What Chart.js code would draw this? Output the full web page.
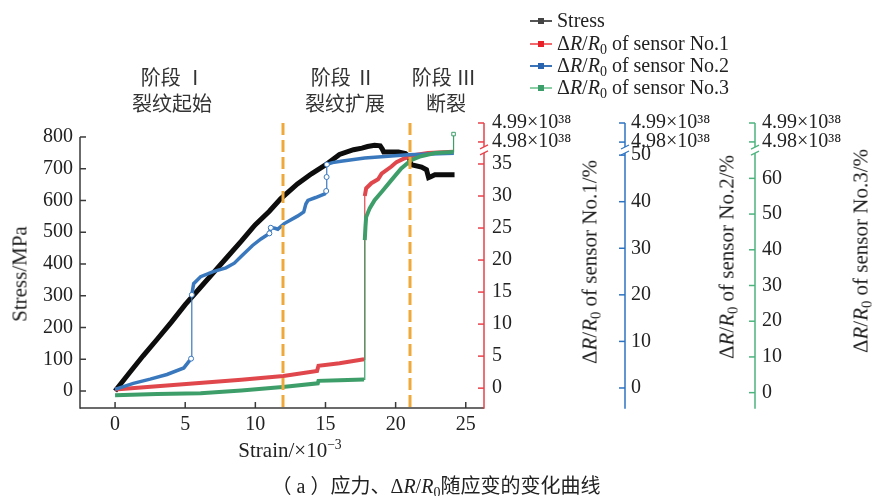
<!DOCTYPE html>
<html><head><meta charset="utf-8">
<script src="https://cdn.jsdelivr.net/npm/chart.js@4.4.1/dist/chart.umd.min.js"></script>
<style>
html,body{margin:0;padding:0;background:#fff;}
#wrap{position:relative;width:872px;height:496px;overflow:hidden;font-family:"Liberation Serif","Noto Sans CJK SC",serif;color:#222;}
#c{position:absolute;left:0;top:0;}
.t{position:absolute;white-space:nowrap;line-height:1;}
.rot{transform:translate(-50%,-50%) rotate(-90deg);}
.ctr{transform:translate(-50%,-50%);}
sub{font-size:0.7em;vertical-align:-0.3em;line-height:0;}
sup{font-size:0.65em;vertical-align:0.55em;line-height:0;}
.cjk{font-family:"Noto Sans CJK SC",sans-serif;}
.stg{color:#333;}
.leg{position:absolute;left:530px;transform:translateY(-50%);white-space:nowrap;line-height:1;font-size:20px;}
.ln{position:relative;display:inline-block;width:22px;height:2px;margin-right:5px;vertical-align:middle;top:-1px;}
.ln b{position:absolute;left:8px;top:-2px;width:6px;height:6px;}
</style></head>
<body>
<div id="wrap">
<canvas id="c" width="872" height="496"></canvas>

<div class="leg" style="top:20px"><span class="ln" style="background:#555"><b style="background:#444"></b></span><span>Stress</span></div>
<div class="leg" style="top:43px"><span class="ln" style="background:#F26A6E"><b style="background:#E8202A"></b></span><span>Δ<i>R</i>/<i>R</i><sub>0</sub> of sensor No.1</span></div>
<div class="leg" style="top:65px"><span class="ln" style="background:#3B74B8"><b style="background:#2A64AE"></b></span><span>Δ<i>R</i>/<i>R</i><sub>0</sub> of sensor No.2</span></div>
<div class="leg" style="top:87px"><span class="ln" style="background:#8BCFA6"><b style="background:#3C9F6B"></b></span><span>Δ<i>R</i>/<i>R</i><sub>0</sub> of sensor No.3</span></div>

<div class="t ctr cjk stg" style="left:173px;top:77px;font-size:20px;">阶段 Ⅰ</div>
<div class="t ctr cjk stg" style="left:172px;top:103px;font-size:20px;">裂纹起始</div>
<div class="t ctr cjk stg" style="left:343px;top:77px;font-size:20px;">阶段 Ⅱ</div>
<div class="t ctr cjk stg" style="left:345px;top:103px;font-size:20px;">裂纹扩展</div>
<div class="t ctr cjk stg" style="left:444px;top:77px;font-size:20px;">阶段 Ⅲ</div>
<div class="t ctr cjk stg" style="left:446px;top:103px;font-size:20px;">断裂</div>

<div class="t rot" style="left:20px;top:274px;font-size:21px;">Stress/MPa</div>
<div class="t ctr" style="left:290px;top:450px;font-size:21px;">Strain/×10<sup>−3</sup></div>
<div class="t rot" style="left:590px;top:262px;font-size:21px;">Δ<i>R</i>/<i>R</i><sub>0</sub> of sensor No.1/%</div>
<div class="t rot" style="left:727px;top:257px;font-size:21px;">Δ<i>R</i>/<i>R</i><sub>0</sub> of sensor No.2/%</div>
<div class="t rot" style="left:861px;top:251px;font-size:21px;">Δ<i>R</i>/<i>R</i><sub>0</sub> of sensor No.3/%</div>

<div class="t ctr" style="left:436px;top:485px;font-size:20px;"><span class="cjk">（</span> a <span class="cjk">）应力、</span>Δ<i>R</i>/<i>R</i><sub>0</sub><span class="cjk">随应变的变化曲线</span></div>
</div>

<script>
// ---------------- data ----------------
const strainTicks = [0, 5, 10, 15, 20, 25];
const stressTicks = [0, 100, 200, 300, 400, 500, 600, 700, 800];
const sensor1Ticks = [0, 5, 10, 15, 20, 25, 30, 35];
const sensor2Ticks = [0, 10, 20, 30, 40, 50];
const sensor3Ticks = [0, 10, 20, 30, 40, 50, 60];
const breakLabels = ['4.98×10³⁸', '4.99×10³⁸'];
const phaseBoundaries = [12, 21];

const stressStrain = [0,1,2,3,4,5,6,7,8,9,9.8,10,11,11.8,13,14,15,16,17,17.6,18,18.5,18.9,19.05,19.15,20.2,20.7,20.95,21.1,21.85,22.2,22.35,22.5,22.8,24.2];
const stressValues = [0,56,111,163,216,272,322,372,422,472,514,524,566,605,652,684,712,745,760,765,770,774,772,762,753,753,748,738,713,705,697,672,675,681,681];

const sensor1Strain = [0,3,6,9,12,14.4,14.5,16,17.75,17.8,17.9,18.27,18.75,19.0,19.7,20.06,20.65,21.4,22.3,24.1];
const sensor1Values = [-0.2,0.3,0.8,1.3,1.9,2.7,3.5,3.9,4.5,30.0,31.2,32.0,32.6,33.5,34.6,35.3,35.9,36.4,36.7,36.9];

const sensor2Strain = [0,1.3,2.5,3.7,4.9,5.42,5.47,5.6,6.1,7.0,7.9,8.5,9.0,9.8,10.4,11.0,11.1,11.4,11.6,12.06,13.0,13.45,13.6,13.75,14.3,14.95,15.05,15.08,15.1,15.5,16.1,17.8,20.9,24.15];
const sensor2Values = [-0.3,1.0,1.9,2.9,4.3,6.3,20.0,22.4,23.9,25.0,25.8,26.8,28.3,30.6,32.0,33.2,34.4,34.3,34.1,35.3,36.9,37.8,39.5,40.3,40.9,41.7,42.3,45.3,48.0,48.4,48.7,49.4,50.1,50.4];

const sensor3Strain = [0,3,6.1,9,11.94,14.45,14.5,16,17.75,17.8,17.85,17.9,18.15,18.5,19.0,19.7,20.4,21.1,21.8,22.8,24.1,24.13];
const sensor3Values = [-0.7,-0.4,-0.2,0.6,1.6,2.6,3.3,3.5,3.7,42.7,46.5,49.2,51.6,53.9,56.2,59.5,62.8,65.1,66.2,67.1,67.4,72.4];

// ---------------- helpers ----------------
const toXY = (xs, ys) => xs.map((x, i) => ({x, y: ys[i]}));
const isJumpSeg = c => {
  const dx = Math.abs(c.p1.x - c.p0.x), dy = Math.abs(c.p1.y - c.p0.y);
  return dx < 2 && dy > 6 && dy > 25 * dx;
};
const segWidth = w => c => isJumpSeg(c) ? 1.2 : w;
function jumpEndRadius(xs, r) {
  return c => {
    const i = c.dataIndex;
    const near = (j) => j >= 0 && j < xs.length && Math.abs(xs[j] - xs[i]) < 0.1;
    return (near(i - 1) || near(i + 1)) ? r : 0;
  };
}

const SERIF = '"Liberation Serif", "Times New Roman", serif';
const FONT = {family: SERIF, size: 20};

const sensorAxes = [
  {id: 'yS1', color: '#E8414A', min: -3.1, max: 41.4, ticks: sensor1Ticks, lowBreak: 38.44, breakAt: 37.2, weight: 1, width: 141, pad: 8},
  {id: 'yS2', color: '#2C73C2', min: -4.3, max: 56.9, ticks: sensor2Ticks, lowBreak: 52.8, breakAt: 51.1, weight: 2, width: 130, pad: 6},
  {id: 'yS3', color: '#4DB37E', min: -4.3, max: 75.5, ticks: sensor3Ticks, lowBreak: 70.2, breakAt: 67.9, weight: 3, width: 117, pad: 7}
];

const scales = {
  x: {
    type: 'linear', position: 'bottom', min: -2.5, max: 26.3,
    grid: {display: false, drawTicks: false}, border: {display: false},
    afterBuildTicks: s => { s.ticks = strainTicks.map(v => ({value: v})); },
    afterFit: s => { s.height = 88; },
    ticks: {autoSkip: false, maxRotation: 0, padding: 5, color: '#222', font: FONT}
  },
  yStress: {
    type: 'linear', position: 'left', min: -53.5, max: 844,
    grid: {display: false, drawTicks: false}, border: {display: false},
    afterBuildTicks: s => { s.ticks = stressTicks.map(v => ({value: v})); },
    afterFit: s => { s.width = 80; },
    ticks: {autoSkip: false, padding: 7, color: '#222', font: FONT}
  }
};
sensorAxes.forEach(a => {
  scales[a.id] = {
    type: 'linear', position: 'right', min: a.min, max: a.max, weight: a.weight,
    grid: {display: false, drawTicks: false}, border: {display: false},
    afterBuildTicks: s => { s.ticks = a.ticks.map(v => ({value: v})).concat([{value: a.lowBreak}, {value: a.max}]); },
    afterFit: s => { s.width = a.width; },
    ticks: {
      autoSkip: false, padding: a.pad, color: '#222', font: FONT,
      callback: v => v === a.lowBreak ? breakLabels[0] : (v === a.max ? breakLabels[1] : String(v))
    }
  };
});

const decor = {
  id: 'decor',
  afterDatasetsDraw(chart) {
    const {ctx, chartArea: a, scales: sc} = chart;
    ctx.save();
    ctx.strokeStyle = '#EFA93A'; ctx.lineWidth = 3; ctx.setLineDash([12, 5]);
    phaseBoundaries.forEach(v => {
      const x = Math.round(sc.x.getPixelForValue(v));
      ctx.beginPath(); ctx.moveTo(x, a.top); ctx.lineTo(x, a.bottom); ctx.stroke();
    });
    ctx.restore();
  },
  afterDraw(chart) {
    const {ctx, chartArea: a, scales: sc} = chart;
    const line = (x1, y1, x2, y2) => { ctx.beginPath(); ctx.moveTo(x1, y1); ctx.lineTo(x2, y2); ctx.stroke(); };
    ctx.save();
    ctx.setLineDash([]); ctx.lineWidth = 1.5; ctx.strokeStyle = '#3a3a3a';
    const yl = sc.yStress;
    line(a.left, yl.getPixelForValue(stressTicks[stressTicks.length - 1]), a.left, a.bottom + 0.75);
    line(a.left, a.bottom, a.right, a.bottom);
    yl.ticks.forEach(t => { const y = yl.getPixelForValue(t.value); line(a.left, y, a.left + 6, y); });
    sc.x.ticks.forEach(t => { const x = sc.x.getPixelForValue(t.value); line(x, a.bottom, x, a.bottom - 6); });
    sensorAxes.forEach(ax => {
      const s = sc[ax.id];
      const x0 = s.left;
      ctx.strokeStyle = ax.color; ctx.lineWidth = 1.5;
      line(x0, a.top, x0, a.bottom + 0.75);
      s.ticks.forEach(t => { const y = s.getPixelForValue(t.value); line(x0 - 6, y, x0, y); });
      const yb = s.getPixelForValue(ax.breakAt);
      ctx.fillStyle = '#fff';
      ctx.fillRect(x0 - 2, yb - 3, 4, 6);
      ctx.lineWidth = 1.2;
      line(x0 - 4, yb - 1, x0 + 4, yb - 5);
      line(x0 - 4, yb + 5, x0 + 4, yb + 1);
    });
    ctx.restore();
  }
};

Chart.defaults.font.family = SERIF;
new Chart(document.getElementById('c'), {
  type: 'line',
  data: {
    datasets: [
      {label: 'Stress', data: toXY(stressStrain, stressValues), yAxisID: 'yStress', borderColor: '#0d0d0d', borderWidth: 5, pointRadius: 0, order: 4, tension: 0,
        segment: {borderWidth: segWidth(5)}},
      {label: 'ΔR/R0 of sensor No.1', data: toXY(sensor1Strain, sensor1Values), yAxisID: 'yS1', borderColor: '#E0474C', borderWidth: 4, pointRadius: 0, order: 3, tension: 0,
        segment: {borderWidth: segWidth(4)}},
      {label: 'ΔR/R0 of sensor No.2', data: toXY(sensor2Strain, sensor2Values), yAxisID: 'yS2', borderColor: '#3A78BE', borderWidth: 3.5, order: 2, tension: 0,
        pointRadius: jumpEndRadius(sensor2Strain, 2.5), pointBackgroundColor: '#fff', pointBorderColor: '#3A78BE', pointBorderWidth: 1,
        segment: {borderWidth: segWidth(3.5)}},
      {label: 'ΔR/R0 of sensor No.3', data: toXY(sensor3Strain, sensor3Values), yAxisID: 'yS3', borderColor: '#3E9E6A', borderWidth: 4, order: 1, tension: 0,
        pointRadius: c => c.dataIndex === sensor3Strain.length - 1 ? 2.5 : 0, pointStyle: 'rect', pointBackgroundColor: '#fff', pointBorderColor: '#3E9E6A', pointBorderWidth: 1,
        segment: {borderWidth: segWidth(4)}}
    ]
  },
  options: {
    responsive: false, animation: false,
    layout: {padding: {top: 123, left: 0, right: 0, bottom: 0}},
    plugins: {legend: {display: false}, tooltip: {enabled: false}},
    scales
  },
  plugins: [decor]
});
</script>
</body></html>
